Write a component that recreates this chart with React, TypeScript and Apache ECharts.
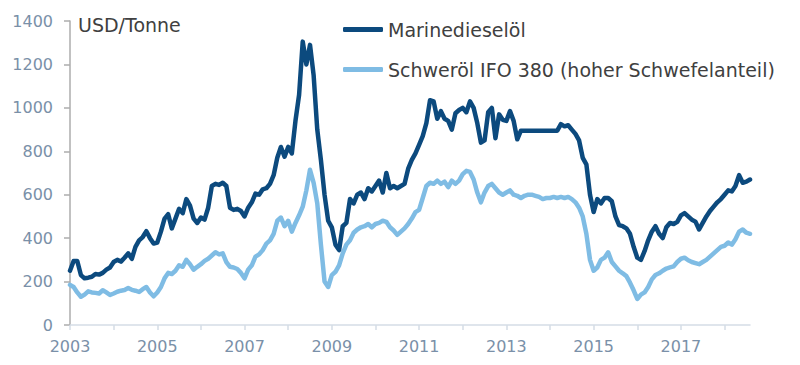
import React, { useEffect, useRef } from "react";
import * as echarts from "echarts";

const startYear = 2003;
const monthCount = 188; // Jan 2003 .. Aug 2018
const months: string[] = Array.from({ length: monthCount }, (_, i) => {
  const y = startYear + Math.floor(i / 12);
  const m = (i % 12) + 1;
  return `${y}-${m < 10 ? "0" + m : m}`;
});

const yTicks = { min: 0, max: 1400, interval: 200 };
const xLabelYears = ["2003", "2005", "2007", "2009", "2011", "2013", "2015", "2017"];

const seriesNames = ["Marinedieselöl", "Schweröl IFO 380 (hoher Schwefelanteil)"];

// Marinedieselöl, USD/Tonne, monthly
const mdo: number[] = [
  // 2003
  250, 295, 295, 230, 215, 218, 222, 235, 232, 240, 255, 265,
  // 2004
  290, 300, 292, 310, 330, 305, 360, 390, 405, 432, 400, 375,
  // 2005
  380, 430, 490, 510, 445, 490, 535, 515, 580, 550, 490, 470,
  // 2006
  495, 485, 540, 640, 650, 645, 655, 640, 540, 530, 535, 525,
  // 2007
  500, 540, 565, 605, 600, 625, 630, 650, 690, 770, 820, 775,
  // 2008
  820, 790, 940, 1060, 1305, 1200, 1290, 1150, 900, 760, 600, 480,
  // 2009
  450, 370, 345, 455, 470, 580, 560, 600, 610, 580, 630, 615,
  // 2010
  640, 665, 610, 700, 630, 640, 630, 640, 650, 720, 760, 790,
  // 2011
  830, 870, 930, 1035, 1030, 950, 985, 950, 940, 900, 975, 990,
  // 2012
  1000, 980, 1030, 1000, 930, 840, 850, 980, 1000, 860, 970, 945,
  // 2013
  940, 985, 940, 855, 895, 895, 895, 895, 895, 895, 895, 895,
  // 2014
  895, 895, 895, 925, 915, 920, 900, 880, 850, 770, 740, 600,
  // 2015
  520, 580, 560, 585, 585, 570, 500, 460, 455, 445, 420, 360,
  // 2016
  310, 300, 340, 390, 430, 455, 420, 400, 450, 470, 465, 475,
  // 2017
  505, 515, 500, 485, 476, 440, 470, 500, 525, 545, 565, 580,
  // 2018
  600, 620, 615, 640, 690, 655, 660, 670,
];

// Schweröl IFO 380, USD/Tonne, monthly
const ifo: number[] = [
  // 2003
  185, 175, 150, 130, 140, 155, 150, 148, 145, 160, 150, 138,
  // 2004
  145, 153, 158, 161, 170, 162, 158, 152, 165, 175, 150, 132,
  // 2005
  150, 175, 215, 240, 235, 250, 275, 268, 300, 280, 255, 268,
  // 2006
  280, 295, 305, 320, 335, 325, 330, 290, 268, 265, 258, 240,
  // 2007
  215, 255, 275, 315, 325, 345, 375, 390, 420, 480, 495, 455,
  // 2008
  480, 430, 470, 505, 545, 620, 715, 655, 560, 370, 200, 175,
  // 2009
  230, 245, 275, 330, 370, 390, 425, 440, 450, 455, 465, 450,
  // 2010
  465, 470, 480, 475, 450, 435, 415, 430, 445, 465, 490, 520,
  // 2011
  530, 585, 640, 655, 650, 665, 650, 660, 635, 665, 650, 665,
  // 2012
  695, 710, 705, 670, 610, 565, 610, 640, 650, 630, 610, 600,
  // 2013
  610, 620, 600, 595, 585, 595, 600, 600, 595, 590, 580, 585,
  // 2014
  585, 590, 585, 590, 585, 590, 580, 565, 540, 500, 420, 300,
  // 2015
  250, 265, 300, 310, 335, 290, 270, 250, 238, 225, 195, 160,
  // 2016
  120, 140, 150, 175, 210, 230, 238, 250, 260, 265, 270, 290,
  // 2017
  305, 310, 298, 290, 285, 280, 290, 300, 315, 330, 345, 360,
  // 2018
  365, 380, 370, 395, 430, 440, 425, 420,
];

const FONT = "DejaVu Sans";

export default function App() {
  const ref = useRef<HTMLDivElement>(null);
  useEffect(() => {
    if (!ref.current) return;
    const chart = echarts.init(ref.current, undefined, { renderer: "svg" });
    chart.setOption({
      animation: false,
      backgroundColor: "#ffffff",
      grid: { left: 70, right: 50, top: 21, bottom: 40, containLabel: false },
      legend: {
        orient: "vertical",
        left: 343,
        top: 20,
        padding: 0,
        itemWidth: 40,
        itemHeight: 5,
        itemGap: 21,
        icon: "roundRect",
        textStyle: { fontFamily: FONT, fontSize: 19, color: "#404040" },
        data: seriesNames,
      },
      graphic: [
        {
          type: "text",
          left: 78,
          top: 15,
          style: { text: "USD/Tonne", fontFamily: FONT, fontSize: 19, fill: "#404040" },
        },
      ],
      xAxis: {
        type: "category",
        data: months,
        boundaryGap: false,
        axisLine: { lineStyle: { color: "#d5dde6", width: 1.5 } },
        axisTick: {
          show: true,
          length: 5,
          lineStyle: { color: "#d5dde6", width: 1.5 },
          interval: (idx: number, val: string) => val.endsWith("-01"),
        },
        axisLabel: {
          interval: (idx: number, val: string) =>
            val.endsWith("-01") && xLabelYears.includes(val.slice(0, 4)),
          formatter: (val: string) => val.slice(0, 4),
          fontFamily: FONT,
          fontSize: 16,
          color: "#7a90a8",
          margin: 13,
        },
        splitLine: { show: false },
      },
      yAxis: {
        type: "value",
        min: yTicks.min,
        max: yTicks.max,
        interval: yTicks.interval,
        axisLine: { show: true, lineStyle: { color: "#adadad", width: 1.5 } },
        axisTick: { show: true, length: 6, lineStyle: { color: "#adadad", width: 1.5 } },
        axisLabel: {
          fontFamily: FONT,
          fontSize: 16,
          color: "#7a90a8",
          margin: 17,
          formatter: (v: number) => String(v),
        },
        splitLine: { show: false },
      },
      series: [
        {
          name: seriesNames[1],
          type: "line",
          data: ifo,
          showSymbol: false,
          symbol: "none",
          lineStyle: { color: "#7fbce4", width: 4.5, join: "round", cap: "round" },
          itemStyle: { color: "#7fbce4" },
          z: 2,
        },
        {
          name: seriesNames[0],
          type: "line",
          data: mdo,
          showSymbol: false,
          symbol: "none",
          lineStyle: { color: "#0c4a7e", width: 4.5, join: "round", cap: "round" },
          itemStyle: { color: "#0c4a7e" },
          z: 3,
        },
      ],
    });
    return () => chart.dispose();
  }, []);
  return (
    <div
      ref={ref}
      style={{ position: "fixed", left: 0, top: 0, width: 800, height: 365 }}
    />
  );
}
